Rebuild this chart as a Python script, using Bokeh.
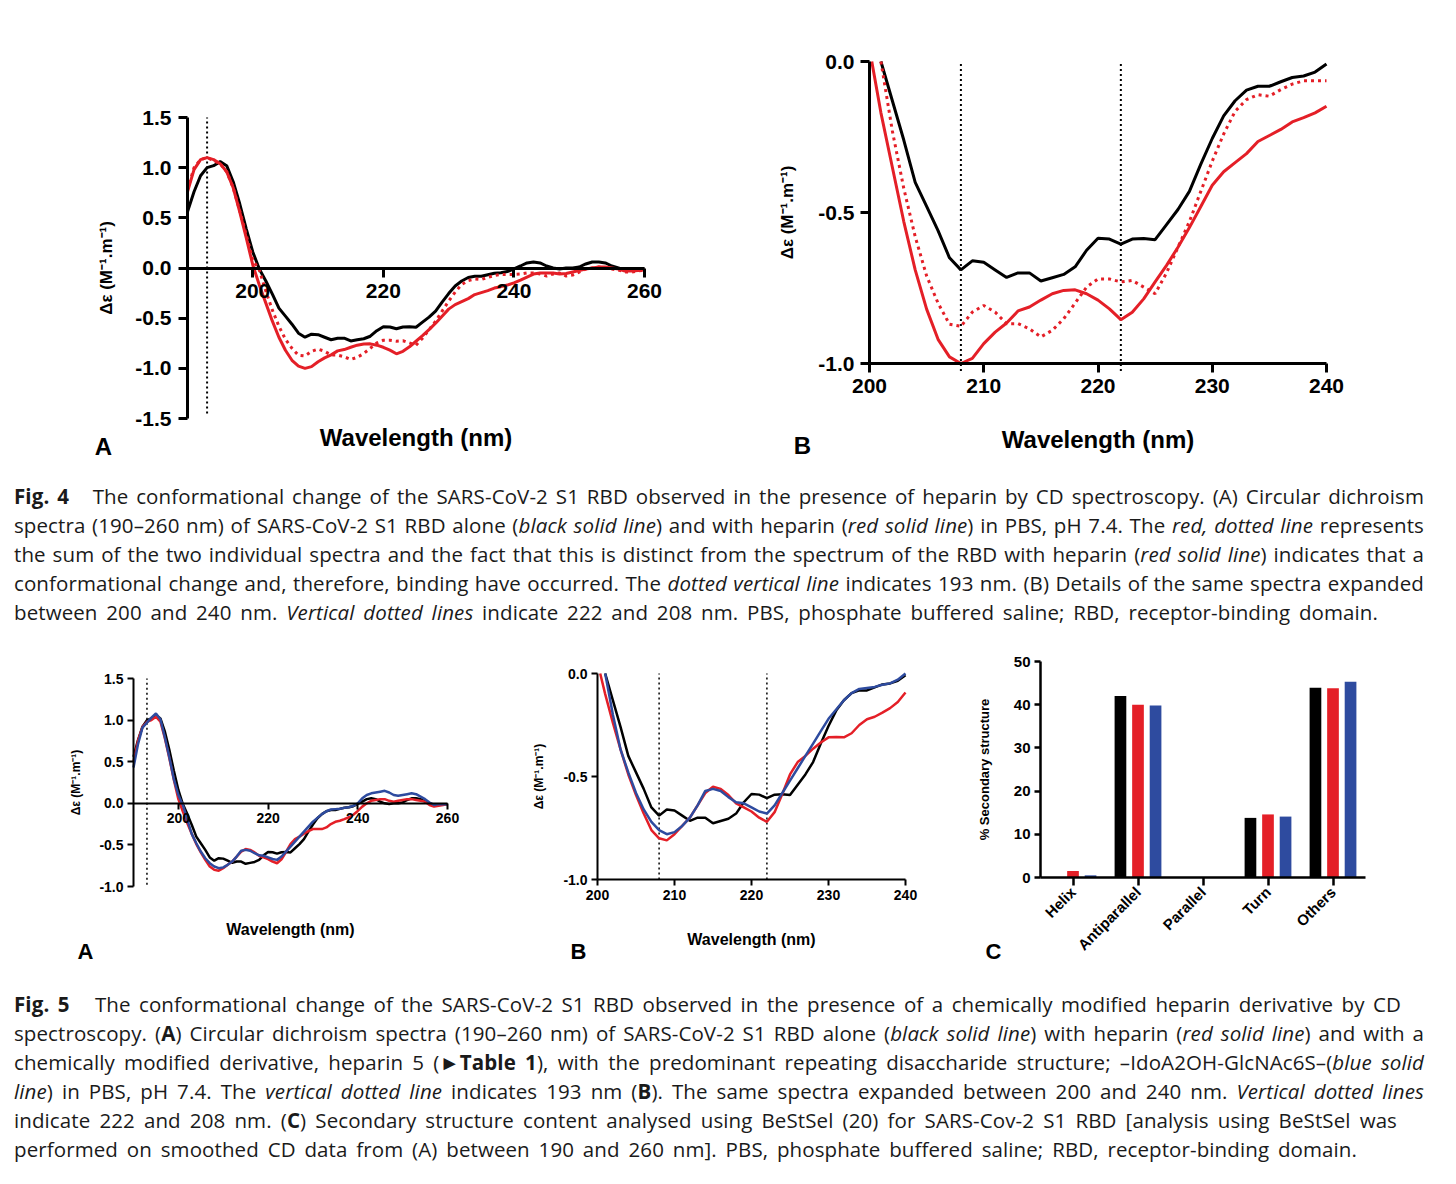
from math import pi
from bokeh.plotting import figure
from bokeh.models import (LinearAxis, CategoricalAxis, FixedTicker, Label, Div,
                          FactorRange, NumeralTickFormatter, Range1d, ColumnDataSource)
from bokeh.layouts import column, row
from bokeh.transform import dodge
from bokeh.embed import file_html
from bokeh.resources import INLINE

# ---------------- data ----------------
wavelength = list(range(190, 261))

rbd_alone = [
    0.56, 0.76, 0.92, 1.00, 1.02, 1.06, 1.02, 0.86, 0.64, 0.39,
    0.16, -0.01, -0.13, -0.26, -0.40, -0.48, -0.56, -0.65, -0.69, -0.66,
    -0.665, -0.69, -0.715, -0.70, -0.70, -0.727, -0.716, -0.705, -0.68, -0.625,
    -0.585, -0.588, -0.605, -0.588, -0.586, -0.59, -0.54, -0.49, -0.43, -0.34,
    -0.255, -0.18, -0.13, -0.095, -0.082, -0.082, -0.067, -0.053, -0.048, -0.035,
    -0.008, 0.02, 0.05, 0.06, 0.05, 0.02, 0.0, -0.01, 0.0, 0.0,
    0.01, 0.04, 0.06, 0.06, 0.05, 0.02, 0.0, -0.02, -0.02, -0.01, -0.01]

rbd_heparin = [
    0.76, 0.98, 1.08, 1.10, 1.08, 1.04, 0.96, 0.80, 0.56, 0.30,
    0.03, -0.17, -0.35, -0.53, -0.69, -0.82, -0.92, -0.978, -1.0, -0.983,
    -0.934, -0.896, -0.866, -0.826, -0.813, -0.79, -0.769, -0.758, -0.756, -0.769,
    -0.79, -0.819, -0.855, -0.83, -0.786, -0.73, -0.675, -0.615, -0.55, -0.48,
    -0.41, -0.365, -0.335, -0.305, -0.265, -0.245, -0.225, -0.20, -0.186, -0.17,
    -0.148, -0.12, -0.09, -0.06, -0.05, -0.05, -0.05, -0.06, -0.055, -0.04,
    -0.025, -0.01, 0.0, 0.01, 0.01, 0.0, -0.01, -0.03, -0.03, -0.025, -0.02]

sum_spectra = [
    0.78, 1.00, 1.08, 1.10, 1.07, 1.04, 0.96, 0.80, 0.57, 0.33,
    0.08, -0.02, -0.23, -0.42, -0.58, -0.71, -0.80, -0.87, -0.877, -0.83,
    -0.808, -0.83, -0.868, -0.868, -0.885, -0.912, -0.89, -0.852, -0.80, -0.747,
    -0.72, -0.72, -0.73, -0.725, -0.747, -0.769, -0.70, -0.615, -0.53, -0.43,
    -0.33, -0.24, -0.165, -0.126, -0.11, -0.115, -0.093, -0.075, -0.064, -0.064,
    -0.064, -0.06, -0.05, -0.05, -0.06, -0.08, -0.06, -0.05, -0.08, -0.07,
    -0.04, -0.01, 0.0, 0.01, 0.0, -0.01, -0.02, -0.04, -0.04, -0.03, -0.02]

rbd_heparin_fig5 = [
    0.50, 0.75, 0.92, 0.98, 1.00, 1.04, 0.98, 0.78, 0.54, 0.28,
    0.05, -0.10, -0.24, -0.37, -0.49, -0.59, -0.68, -0.76, -0.80, -0.81,
    -0.78, -0.74, -0.70, -0.64, -0.58, -0.55, -0.56, -0.59, -0.63, -0.65,
    -0.67, -0.70, -0.72, -0.673, -0.585, -0.49, -0.43, -0.40, -0.365, -0.335,
    -0.31, -0.308, -0.31, -0.29, -0.25, -0.222, -0.21, -0.19, -0.168, -0.138,
    -0.092, -0.04, 0.0, 0.03, 0.04, 0.05, 0.05, 0.03, 0.02, 0.03,
    0.04, 0.05, 0.05, 0.04, 0.03, 0.02, -0.02, -0.04, -0.03, -0.02, -0.01]

rbd_heparin5 = [
    0.43, 0.71, 0.91, 0.97, 1.03, 1.08, 1.01, 0.79, 0.55, 0.29,
    0.10, -0.02, -0.20, -0.37, -0.48, -0.58, -0.66, -0.72, -0.76, -0.78,
    -0.77, -0.74, -0.70, -0.64, -0.57, -0.56, -0.57, -0.60, -0.625, -0.63,
    -0.65, -0.67, -0.68, -0.64, -0.58, -0.52, -0.46, -0.40, -0.34, -0.28,
    -0.22, -0.175, -0.13, -0.095, -0.075, -0.07, -0.065, -0.055, -0.048, -0.03,
    0.0, 0.06, 0.10, 0.12, 0.13, 0.14, 0.15, 0.13, 0.10, 0.09,
    0.10, 0.11, 0.12, 0.11, 0.08, 0.05, 0.01, -0.02, -0.01, -0.01, -0.01]

# wavelength (nm) where each spectrum crosses 0.0 at the top of the expanded (B) panels
zero_cross_fig4 = [201.0, 200.2, 201.0]     # RBD alone, with heparin, sum
zero_cross_fig5 = [201.0, 200.35, 201.0]    # RBD alone, with heparin, with heparin 5

marker_193 = [193]
markers_208_222 = [208, 222]

structures = ["Helix", "Antiparallel", "Parallel", "Turn", "Others"]
pct_rbd = [0.0, 42.0, 0.0, 13.8, 43.9]
pct_heparin = [1.5, 40.0, 0.0, 14.6, 43.8]
pct_heparin5 = [0.5, 39.8, 0.0, 14.1, 45.3]

FONT = "Liberation Sans"
RED = "#e41f27"
BLUE = "#2e4b9f"
BLACK = "#000000"
YLAB = "Δε (M⁻¹.m⁻¹)"


def expanded(series, start_nm, stop_nm=240):
    """Part of a spectrum shown in an expanded panel, starting at its 0.0 crossing."""
    xs = [start_nm] + [w for w in wavelength if start_nm < w <= stop_nm]
    ys = [0.0] + [v for w, v in zip(wavelength, series) if start_nm < w <= stop_nm]
    return xs, ys


def frame_range(v0, v1, p0, p1, size):
    """Range so that value v0 sits at pixel p0 and v1 at pixel p1 of a canvas of given size."""
    k = (p1 - p0) / (v1 - v0)
    a = v0 - p0 / k
    b = v0 + (size - p0) / k
    return (min(a, b), max(a, b))


def style_axis(ax, fs, lw, tick_out, standoff):
    ax.axis_line_width = lw
    ax.axis_line_color = BLACK
    ax.major_tick_line_width = lw
    ax.major_tick_line_color = BLACK
    ax.major_tick_out = tick_out
    ax.major_tick_in = 0
    ax.minor_tick_line_color = None
    ax.major_label_text_font = FONT
    ax.major_label_text_font_style = "bold"
    ax.major_label_text_font_size = fs
    ax.major_label_text_color = BLACK
    ax.major_label_standoff = standoff
    ax.axis_label_text_font = FONT
    ax.axis_label_text_font_style = "bold"
    ax.axis_label_text_color = BLACK


def base_fig(width, height, x_range, y_range):
    p = figure(width=width, height=height, x_range=x_range, y_range=y_range,
               output_backend="svg", toolbar_location=None,
               x_axis_type=None, y_axis_type=None, min_border=0)
    p.outline_line_color = None
    p.background_fill_color = "white"
    p.border_fill_color = "white"
    return p


def add_letter(p, text, pos, fs):
    p.add_layout(Label(x=pos[0], y=pos[1], x_units="screen", y_units="screen",
                       text=text, text_font=FONT, text_font_style="bold",
                       text_font_size=fs, text_color=BLACK,
                       text_align="center", text_baseline="middle"))


def spectrum_panel(W, H, xv, xp, yv, yp, xaxis_at, xbounds, ybounds, xticks, yticks,
                   tick_fs, lab_fs, ylab_fs, lw, tick_out, tick_standoff,
                   xlab_standoff, ylab_standoff, letter, letter_pos, letter_fs):
    p = base_fig(W, H, Range1d(*frame_range(xv[0], xv[1], xp[0], xp[1], W)),
                 Range1d(*frame_range(yv[0], yv[1], yp[0], yp[1], H)))
    ya = LinearAxis(ticker=FixedTicker(ticks=yticks),
                    formatter=NumeralTickFormatter(format="0.0"),
                    axis_label=YLAB, fixed_location=xbounds[0], bounds=ybounds)
    style_axis(ya, tick_fs, lw, tick_out, tick_standoff)
    ya.axis_label_text_font_size = ylab_fs
    ya.axis_label_standoff = ylab_standoff
    p.add_layout(ya, "left")
    xa = LinearAxis(ticker=FixedTicker(ticks=xticks), axis_label="Wavelength (nm)",
                    fixed_location=xaxis_at, bounds=xbounds)
    style_axis(xa, tick_fs, lw, tick_out, tick_standoff)
    xa.axis_label_text_font_size = lab_fs
    xa.axis_label_standoff = xlab_standoff
    p.add_layout(xa, "below")
    add_letter(p, letter, letter_pos, letter_fs)
    return p


def add_vlines(p, locs, ylo, yhi, lw):
    p.segment(x0=locs, x1=locs, y0=[ylo] * len(locs), y1=[yhi] * len(locs),
              line_color=BLACK, line_width=lw, line_dash="2 3")


# ---------------- Fig 4A ----------------
f4a = spectrum_panel(728, 478, (190, 260), (187, 644), (1.5, -1.5), (117, 418),
                     0, (190, 260), (-1.5, 1.5),
                     [200, 220, 240, 260], [-1.5, -1.0, -0.5, 0.0, 0.5, 1.0, 1.5],
                     "21px", "24px", "17px", 3, 9, 7, 122, 16, "A", (103, 32), "24px")
add_vlines(f4a, marker_193, -1.45, 1.5, 2)
f4a.line(wavelength, rbd_alone, line_color=BLACK, line_width=3)
f4a.line(wavelength, sum_spectra, line_color=RED, line_width=3, line_dash="3 4")
f4a.line(wavelength, rbd_heparin, line_color=RED, line_width=3)

# ---------------- Fig 4B ----------------
f4b = spectrum_panel(728, 478, (200, 240), (141, 598), (0.0, -1.0), (61, 363),
                     -1.0, (200, 240), (-1.0, 0.0),
                     [200, 210, 220, 230, 240], [-1.0, -0.5, 0.0],
                     "21px", "24px", "17px", 3, 9, 6, 30, 18, "B", (74, 33), "24px")
add_vlines(f4b, markers_208_222, -1.025, 0.0, 2)
f4b.line(*expanded(rbd_alone, zero_cross_fig4[0]), line_color=BLACK, line_width=3)
f4b.line(*expanded(sum_spectra, zero_cross_fig4[2]), line_color=RED, line_width=3,
         line_dash="3 4")
f4b.line(*expanded(rbd_heparin, zero_cross_fig4[1]), line_color=RED, line_width=3)

# ---------------- Fig 5A ----------------
f5a = spectrum_panel(508, 346, (190, 260), (133, 447), (1.5, -1.0), (38, 246),
                     0, (190, 260), (-1.0, 1.5),
                     [200, 220, 240, 260], [-1.0, -0.5, 0.0, 0.5, 1.0, 1.5],
                     "14px", "16px", "12px", 2, 6, 4, 94, 13, "A", (85, 35), "22px")
add_vlines(f5a, marker_193, -0.98, 1.5, 1.5)
f5a.line(wavelength, rbd_alone, line_color=BLACK, line_width=2.5)
f5a.line(wavelength, rbd_heparin_fig5, line_color=RED, line_width=2.5)
f5a.line(wavelength, rbd_heparin5, line_color=BLUE, line_width=2.5)

# ---------------- Fig 5B ----------------
f5b = spectrum_panel(456, 346, (200, 240), (89, 397), (0.0, -1.0), (33, 239),
                     -1.0, (200, 240), (-1.0, 0.0),
                     [200, 210, 220, 230, 240], [-1.0, -0.5, 0.0],
                     "14px", "16px", "12px", 2, 6, 4, 28, 14, "B", (70, 35), "22px")
add_vlines(f5b, markers_208_222, -1.0, 0.0, 1.5)
f5b.line(*expanded(rbd_alone, zero_cross_fig5[0]), line_color=BLACK, line_width=2.5)
f5b.line(*expanded(rbd_heparin_fig5, zero_cross_fig5[1]), line_color=RED, line_width=2.5)
f5b.line(*expanded(rbd_heparin5, zero_cross_fig5[2]), line_color=BLUE, line_width=2.5)

# ---------------- Fig 5C ----------------
C_W, C_H = 477, 346
C_LEFT, C_RIGHT = 76, 401  # frame pixels of the category span
cat_pad = C_LEFT / ((C_RIGHT - C_LEFT) / len(structures))
f5c = base_fig(C_W, C_H,
               FactorRange(*structures, range_padding=cat_pad, range_padding_units="absolute"),
               Range1d(*frame_range(50, 0, 21, 237, C_H)))
yc = LinearAxis(ticker=FixedTicker(ticks=[0, 10, 20, 30, 40, 50]),
                formatter=NumeralTickFormatter(format="0"),
                axis_label="% Secondary structure", fixed_location=0, bounds=(0, 50))
style_axis(yc, "15px", 2.5, 6, 4)
yc.axis_label_text_font_size = "13px"
yc.axis_label_standoff = 19
f5c.add_layout(yc, "left")
xc = CategoricalAxis(fixed_location=0, bounds=(0, len(structures)))
style_axis(xc, "15px", 2.5, 8, 4)
xc.major_label_orientation = pi / 4
f5c.add_layout(xc, "below")
src = ColumnDataSource(dict(cat=structures, rbd=pct_rbd, hep=pct_heparin, hep5=pct_heparin5))
f5c.vbar(x=dodge("cat", -0.27, range=f5c.x_range), top="rbd", width=0.18,
         source=src, fill_color=BLACK, line_color=None)
f5c.vbar(x=dodge("cat", 0.0, range=f5c.x_range), top="hep", width=0.18,
         source=src, fill_color=RED, line_color=None)
f5c.vbar(x=dodge("cat", 0.27, range=f5c.x_range), top="hep5", width=0.18,
         source=src, fill_color=BLUE, line_color=None)
add_letter(f5c, "C", (29, 35), "22px")


# ---------------- captions ----------------
def caption(lines, widths, last_left, height, pad_top):
    parts = []
    for i, (txt, w) in enumerate(zip(lines, widths)):
        if last_left and i == len(lines) - 1:
            st = "white-space:nowrap;text-align:left;"
        else:
            st = "white-space:nowrap;text-align:justify;text-align-last:justify;"
        parts.append('<div style="%swidth:%dpx;">%s</div>' % (st, w, txt))
    html = ('<div style="font-family:\'Open Sans\', \'Noto Sans\', sans-serif;font-size:20.5px;'
            'letter-spacing:0.1px;line-height:29px;color:#1a1a1a;'
            'padding-left:14px;padding-top:%spx;">' % pad_top) + "".join(parts) + "</div>"
    return Div(text=html, width=1456, height=height, margin=0)


cap4_lines = [
    "<b>Fig. 4</b>&nbsp;&nbsp; The conformational change of the SARS-CoV-2 S1 RBD observed in the presence of heparin by CD spectroscopy. (A) Circular dichroism",
    "spectra (190–260 nm) of SARS-CoV-2 S1 RBD alone (<i>black solid line</i>) and with heparin (<i>red solid line</i>) in PBS, pH 7.4. The <i>red, dotted line</i> represents",
    "the sum of the two individual spectra and the fact that this is distinct from the spectrum of the RBD with heparin (<i>red solid line</i>) indicates that a",
    "conformational change and, therefore, binding have occurred. The <i>dotted vertical line</i> indicates 193 nm. (B) Details of the same spectra expanded",
    "between 200 and 240 nm. <i>Vertical dotted lines</i> indicate 222 and 208 nm. PBS, phosphate buffered saline; RBD, receptor-binding domain.",
]
cap4_widths = [1410, 1410, 1410, 1410, 1364]
cap5_lines = [
    "<b>Fig. 5</b>&nbsp;&nbsp; The conformational change of the SARS-CoV-2 S1 RBD observed in the presence of a chemically modified heparin derivative by CD",
    "spectroscopy. (<b>A</b>) Circular dichroism spectra (190–260 nm) of SARS-CoV-2 S1 RBD alone (<i>black solid line</i>) with heparin (<i>red solid line</i>) and with a",
    "chemically modified derivative, heparin 5 (<b>►Table 1</b>), with the predominant repeating disaccharide structure; –IdoA2OH-GlcNAc6S–(<i>blue solid</i>",
    "<i>line</i>) in PBS, pH 7.4. The <i>vertical dotted line</i> indicates 193 nm (<b>B</b>). The same spectra expanded between 200 and 240 nm. <i>Vertical dotted lines</i>",
    "indicate 222 and 208 nm. (<b>C</b>) Secondary structure content analysed using BeStSel (20) for SARS-Cov-2 S1 RBD [analysis using BeStSel was",
    "performed on smoothed CD data from (A) between 190 and 260 nm]. PBS, phosphate buffered saline; RBD, receptor-binding domain.",
]
cap5_widths = [1387, 1410, 1410, 1410, 1383, 1343]
cap4 = caption(cap4_lines, cap4_widths, False, 162, 3.5)
cap5 = caption(cap5_lines, cap5_widths, False, 190, 3.5)

layout = column(row(column(f4a), column(f4b)), cap4,
                row(column(f5a), column(f5b), column(f5c)), cap5)

open("out.html", "w").write(file_html(layout, INLINE))
